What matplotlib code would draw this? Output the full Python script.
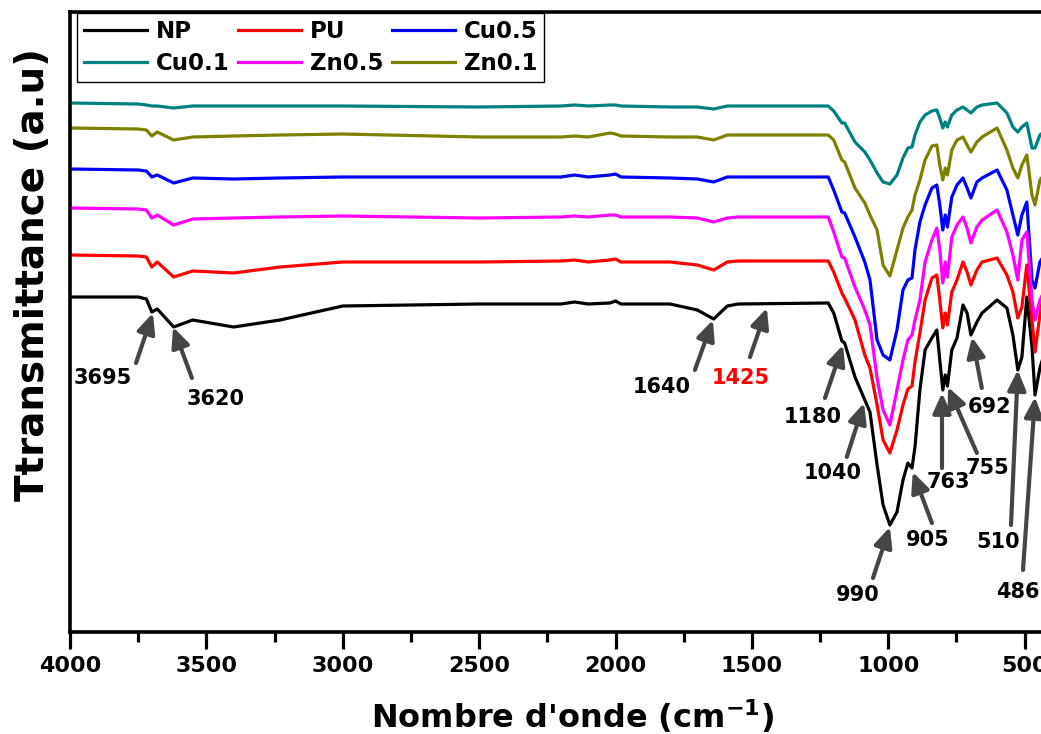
import numpy as np
import matplotlib.pyplot as plt
from matplotlib.ticker import MultipleLocator

# wavenumber grid (cm-1), shared by all spectra
wavenumber = [4000, 3750, 3720, 3700, 3680, 3620, 3550, 3400, 3230, 3000,
              2500, 2200, 2150, 2100, 2020, 2000, 1980, 1800, 1700, 1640,
              1590, 1550, 1220, 1200, 1170, 1160, 1122, 1086, 1067, 1041,
              1019, 994, 968, 946, 928, 913, 902, 884, 865, 840,
              822, 811, 800, 791, 783, 767, 748, 726, 711, 697,
              675, 656, 601, 565, 543, 525, 510, 492, 473, 462,
              444, 435]

# transmittance (a.u.), offset spectra
t_np = [335, 335, 333, 320, 323, 305, 312, 305, 312, 326,
        328, 328, 330, 328, 329, 331, 328, 328, 322, 313,
        326, 328, 329, 319, 291, 289, 255, 232, 220, 167,
        127, 107, 120, 152, 169, 164, 185, 242, 282, 294,
        302, 272, 242, 257, 246, 282, 294, 327, 319, 297,
        310, 319, 332, 324, 297, 262, 275, 335, 285, 237,
        264, 272]
t_pu = [377, 376, 375, 365, 370, 355, 361, 359, 365, 370,
        370, 371, 372, 370, 372, 373, 370, 370, 367, 362,
        370, 371, 371, 360, 339, 334, 312, 277, 264, 227,
        192, 179, 202, 227, 243, 246, 270, 299, 332, 354,
        357, 332, 304, 319, 307, 340, 352, 370, 360, 347,
        362, 370, 374, 357, 340, 314, 325, 367, 312, 280,
        317, 332]
t_cu05 = [463, 462, 461, 455, 457, 449, 454, 453, 454, 455,
          455, 455, 457, 455, 457, 458, 455, 454, 453, 450,
          455, 455, 455, 442, 420, 419, 395, 370, 352, 292,
          277, 272, 302, 342, 352, 354, 382, 410, 427, 444,
          447, 427, 402, 417, 405, 435, 447, 454, 444, 434,
          450, 454, 462, 442, 417, 397, 417, 430, 352, 344,
          370, 374]
t_cu01 = [529, 528, 527, 526, 526, 524, 526, 526, 526, 526,
          525, 526, 527, 526, 527, 527, 526, 525, 525, 523,
          526, 526, 526, 521, 509, 509, 490, 480, 472, 459,
          450, 448, 457, 474, 484, 485, 497, 510, 517, 521,
          522, 514, 504, 510, 505, 517, 522, 525, 522, 519,
          525, 527, 529, 519, 505, 500, 505, 509, 484, 484,
          497, 499]
t_zn05 = [424, 423, 422, 414, 417, 407, 413, 414, 415, 416,
          414, 415, 416, 415, 417, 417, 415, 415, 414, 410,
          414, 415, 415, 400, 375, 374, 345, 322, 307, 254,
          222, 207, 242, 272, 292, 297, 312, 332, 370, 392,
          404, 382, 349, 370, 355, 395, 407, 415, 404, 389,
          405, 412, 422, 400, 377, 352, 392, 400, 332, 312,
          332, 337]
t_zn01 = [504, 503, 502, 496, 500, 492, 495, 496, 497, 498,
          495, 495, 496, 495, 499, 498, 496, 495, 495, 492,
          497, 497, 497, 492, 472, 470, 444, 429, 417, 402,
          367, 356, 382, 404, 415, 422, 437, 452, 472, 486,
          487, 467, 452, 464, 457, 482, 492, 495, 487, 480,
          490, 495, 504, 482, 464, 454, 467, 477, 437, 427,
          452, 455]

names = ["NP", "PU", "Cu0.5", "Cu0.1", "Zn0.5", "Zn0.1"]
series = [t_np, t_pu, t_cu05, t_cu01, t_zn05, t_zn01]
colors = ["black", "#ff0000", "#0000ff", "#008080", "#ff00ff", "#808000"]

# band labels: text, text pos, arrow tail, arrow tip (wavenumber, a.u.)
bands = [
    ("3695", (3879, 254), (3758, 269), (3696, 319), "black"),
    ("3620", (3468, 233), (3553, 254), (3622, 305), "black"),
    ("1640", (1830, 245), (1709, 262), (1643, 312), "black"),
    ("1425", (1540, 254), (1507, 275), (1445, 324), "red"),
    ("1180", (1276, 215), (1232, 234), (1166, 287), "black"),
    ("1040", (1203, 159), (1152, 175), (1089, 229), "black"),
    ("990", (1111, 37), (1056, 54), (994, 105), "black"),
    ("905", (855, 92), (840, 109), (910, 160), "black"),
    ("763", (781, 150), (803, 164), (803, 239), "black"),
    ("755", (635, 164), (675, 179), (781, 245), "black"),
    ("692", (627, 225), (657, 244), (693, 295), "black"),
    ("510", (598, 90), (550, 107), (525, 262), "black"),
    ("486", (525, 40), (506, 62), (462, 235), "black"),
]

fig = plt.figure(figsize=(10.41, 7.34), dpi=100)
ax = fig.add_axes([70 / 1041, 102 / 734, 971 / 1041, 620 / 734])

lines = []
for name, y, c in zip(names, series, colors):
    ln, = ax.plot(wavenumber, y, color=c, lw=2.3, label=name)
    lines.append(ln)

for lab, txt, tail, tip, c in bands:
    ax.annotate("", xy=tip, xytext=tail,
                arrowprops=dict(arrowstyle="-|>,head_length=0.55,head_width=0.25",
                                color="#454545", lw=3, mutation_scale=22,
                                shrinkA=0, shrinkB=0))
    ax.text(txt[0], txt[1], lab, color=c, fontsize=15, fontweight="bold",
            ha="center", va="center")

ax.set_xlim(4000, 440)
ax.set_ylim(0, 620)
ax.set_yticks([])
ax.xaxis.set_major_locator(MultipleLocator(500))
ax.xaxis.set_minor_locator(MultipleLocator(250))
ax.tick_params(axis="x", which="major", direction="out", length=12, width=2.3,
               labelsize=16, pad=5)
ax.tick_params(axis="x", which="minor", direction="out", length=7, width=2.3)
for lbl in ax.get_xticklabels():
    lbl.set_fontweight("bold")
for s in ["left", "top", "bottom"]:
    ax.spines[s].set_linewidth(2.6)
ax.spines["right"].set_visible(False)

ax.set_xlabel(r"Nombre d'onde (cm$^{\mathbf{-1}}$)", fontsize=23, fontweight="bold")
ax.xaxis.set_label_coords((573 - 70) / 971, -0.106)
ax.set_ylabel("Ttransmittance (a.u)", fontsize=28, fontweight="bold")
ax.yaxis.set_label_coords(-0.019, 0.576)

order = [0, 3, 1, 4, 2, 5]
leg = ax.legend([lines[i] for i in order], [names[i] for i in order], ncol=3,
                loc="upper left", bbox_to_anchor=(0.0072, 0.998), borderaxespad=0,
                prop={"weight": "bold", "size": 16.5}, handlelength=2.75,
                handletextpad=0.4, columnspacing=0.35, labelspacing=0.4,
                borderpad=0.3, fancybox=False, edgecolor="black", framealpha=1)
leg.get_frame().set_linewidth(1)

# small stray arrow at the top edge
ax.annotate("", xy=(153, 721), xycoords="figure pixels", xytext=(153, 703),
            textcoords="figure pixels",
            arrowprops=dict(arrowstyle="-|>,head_length=0.8,head_width=0.3",
                            color="black", lw=0.6, mutation_scale=14,
                            shrinkA=0, shrinkB=0))

fig.savefig("out.png", dpi=100)
